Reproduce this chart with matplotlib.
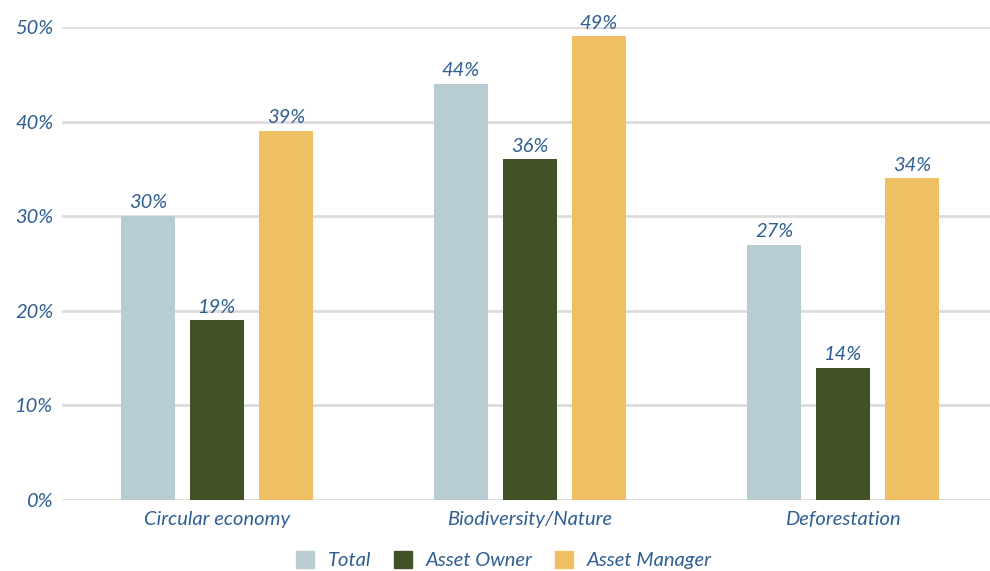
import numpy as np
import matplotlib.pyplot as plt
from matplotlib.patches import Patch

# Survey share by theme
categories = ['Circular economy', 'Biodiversity/Nature', 'Deforestation']
series = ['Total', 'Asset Owner', 'Asset Manager']
total = [30, 44, 27]
asset_owner = [19, 36, 14]
asset_manager = [39, 49, 34]

colors = ['#b8cdd2', '#415325', '#efbf63']
text_color = '#2f5f92'

plt.rcParams['font.family'] = ['Lato', 'DejaVu Sans']
plt.rcParams['font.style'] = 'italic'

fig = plt.figure(figsize=(9.9, 5.71), dpi=100)
ax = fig.add_axes([62 / 990, 1 - 500 / 571, 928 / 990, 473 / 571])

x = np.arange(len(categories))
width = 0.1725
step = 0.22
for i, (vals, col) in enumerate(zip([total, asset_owner, asset_manager], colors)):
    pos = x + (i - 1) * step
    ax.bar(pos, vals, width=width, color=col, zorder=3)
    for p, v in zip(pos, vals):
        ax.text(p, v + 0.5, f'{v}%', ha='center', va='bottom',
                fontsize=14.5, color=text_color, style='italic')

ax.set_xlim(-0.495, 2.47)
ax.set_ylim(0, 50)
ax.set_yticks(range(0, 51, 10))
ax.set_yticklabels([f'{t}%' for t in range(0, 51, 10)])
ax.set_xticks(x)
ax.set_xticklabels(categories)
ax.tick_params(axis='both', length=0, labelsize=14.5, labelcolor=text_color)
ax.tick_params(axis='y', pad=6)
ax.tick_params(axis='x', pad=8)
for lab in ax.get_xticklabels() + ax.get_yticklabels():
    lab.set_style('italic')

ax.grid(axis='y', color='#dcdcdc', linewidth=2, zorder=0)
for s in ax.spines.values():
    s.set_visible(False)

handles = [Patch(color=c, label=s) for c, s in zip(colors, series)]
leg = fig.legend(handles=handles, loc='center', bbox_to_anchor=(504 / 990, 1 - 560 / 571),
                 ncol=3, frameon=False, fontsize=14.5, handlelength=0.9, handleheight=0.9,
                 columnspacing=1.1, handletextpad=0.7, borderpad=0.2)
for t in leg.get_texts():
    t.set_color(text_color)
    t.set_style('italic')

fig.savefig('out.png', dpi=100)
